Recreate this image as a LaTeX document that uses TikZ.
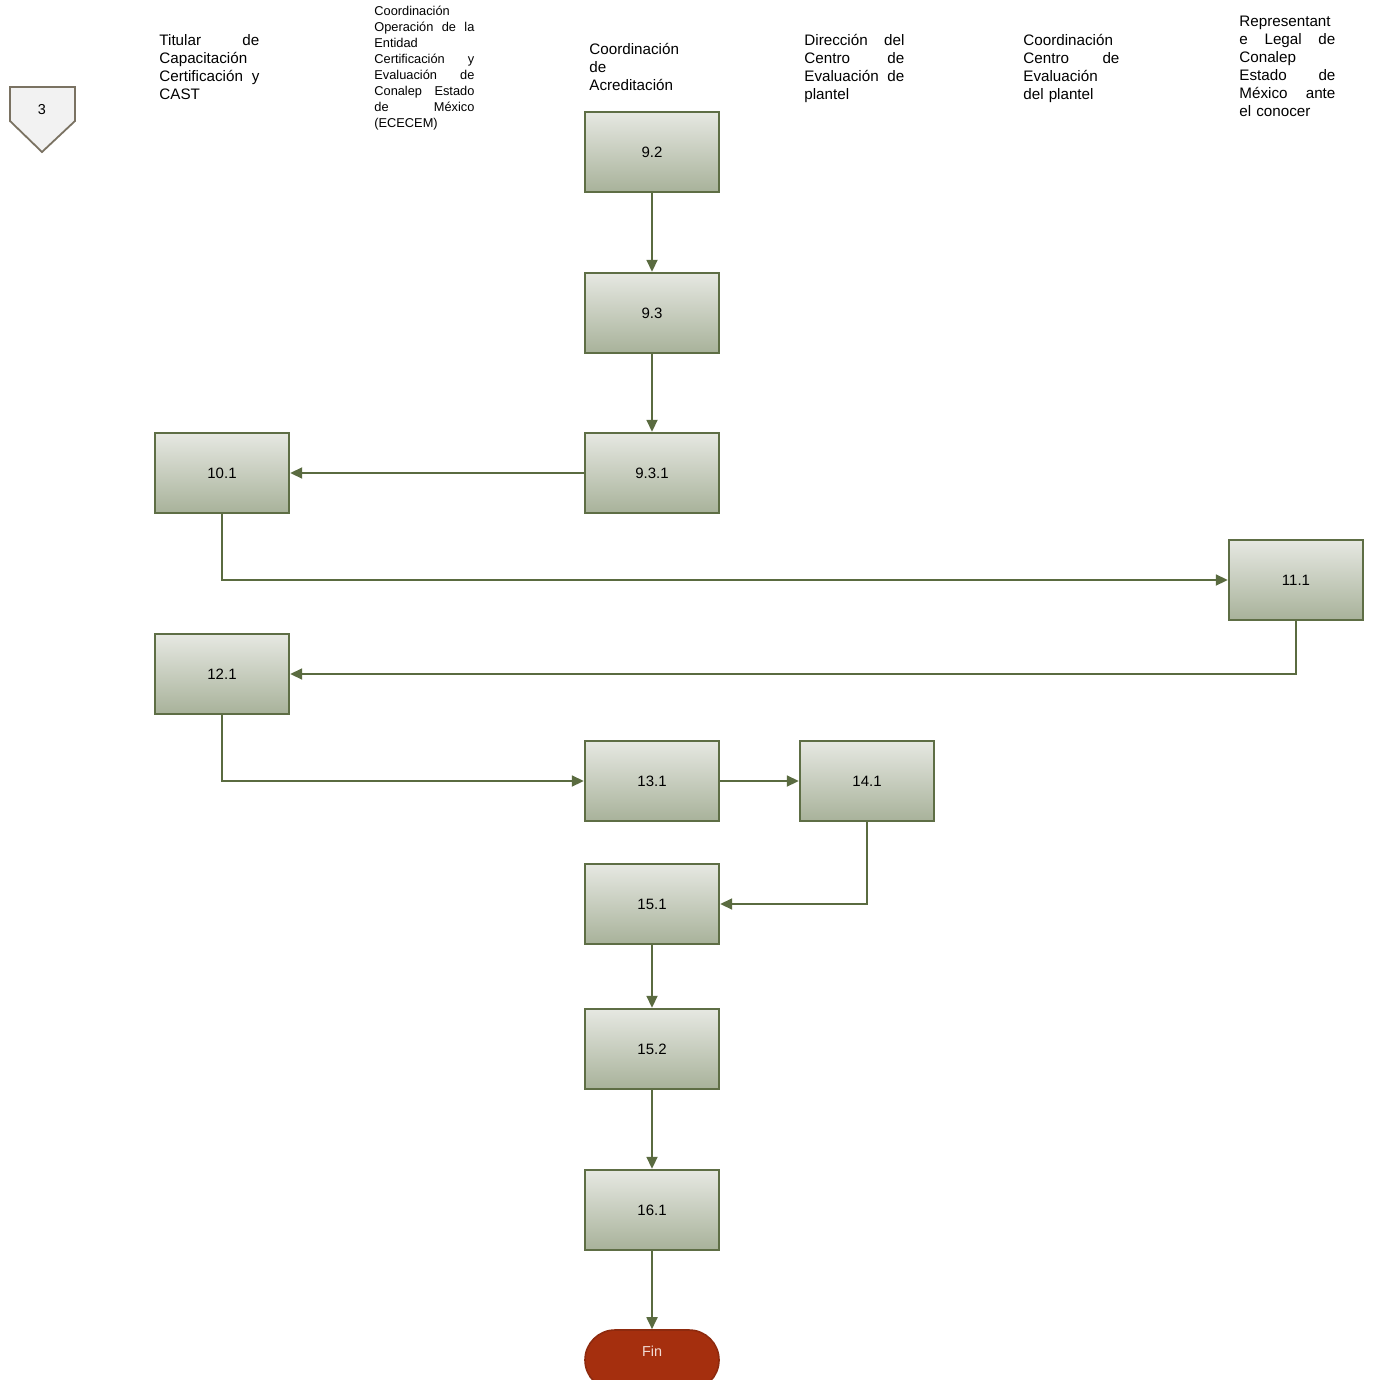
\documentclass[tikz,border=0pt]{standalone}
\usepackage{fontspec}
\setmainfont{Liberation Sans}
\usetikzlibrary{arrows.meta,shapes.geometric,shapes.misc}
\definecolor{boxline}{HTML}{5E6E45}
\definecolor{boxtop}{HTML}{E6E8E2}
\definecolor{boxbot}{HTML}{A8B29A}
\definecolor{arr}{HTML}{5A6B40}
\definecolor{finfill}{HTML}{A52F0E}
\definecolor{finline}{HTML}{8E2A0E}
\definecolor{fintext}{HTML}{F2DCD4}
\definecolor{connline}{HTML}{7A7262}
\definecolor{connfill}{HTML}{F2F2F2}
\tikzset{
  stepbox/.style={draw=boxline, line width=1.2pt, top color=boxtop, bottom color=boxbot,
    minimum width=67pt, minimum height=40pt, inner sep=0pt, font=\fontsize{7.5}{9}\selectfont},
  flow/.style={draw=arr, line width=0.9pt, -{Triangle[length=6pt,width=5.5pt]}},
  hdr/.style={anchor=north west, inner sep=0pt, align=left, font=\fontsize{7.6}{9}\selectfont},
  hdrsmall/.style={anchor=north west, inner sep=0pt, align=left, font=\fontsize{6.4}{8}\selectfont},
  finbox/.style={rounded rectangle, draw=finline, line width=0.8pt, fill=finfill, text=fintext,
    minimum width=67pt, minimum height=30pt, inner sep=0pt, font=\fontsize{7.2}{8}\selectfont},
}
\begin{document}
\begin{tikzpicture}[x=0.5pt,y=-0.5pt]
\useasboundingbox (0,0) rectangle (1372,1380);

% off-page connector
\draw[draw=connline, fill=connfill, line width=0.9pt] (10,87) -- (75,87) -- (75,121) -- (42,152) -- (10,121) -- cycle;
\node[inner sep=0pt, font=\fontsize{7.2}{8}\selectfont] (conn3) at (42,110) {3};

% headers
\node[hdr, text width=50pt] (h1) at (159,34) {Titular\hfill de\\Capacitación\\Certificación\hfill y\\CAST};
\node[hdrsmall, text width=50pt] (h2) at (374,6) {Coordinación\\Operación\hfill de\hfill la\\Entidad\\Certificación\hfill y\\Evaluación\hfill de\\Conalep\hfill Estado\\de\hfill México\\(ECECEM)};
\node[hdr, text width=50pt] (h3) at (589,43) {Coordinación\\de\\Acreditación};
\node[hdr, text width=50pt] (h4) at (804,34) {Dirección\hfill del\\Centro\hfill de\\Evaluación\hfill de\\plantel};
\node[hdr, text width=48pt] (h5) at (1023,34) {Coordinación\\Centro\hfill de\\Evaluación\\del plantel};
\node[hdr, text width=48pt] (h6) at (1239,16) {Representant\\e\hfill Legal\hfill de\\Conalep\\Estado\hfill de\\México\hfill ante\\el conocer};

% steps
\node[stepbox] (n92)  at (652,152)  {9.2};
\node[stepbox] (n93)  at (652,313)  {9.3};
\node[stepbox] (n931) at (652,473)  {9.3.1};
\node[stepbox] (n101) at (222,473)  {10.1};
\node[stepbox] (n111) at (1296,580) {11.1};
\node[stepbox] (n121) at (222,674)  {12.1};
\node[stepbox] (n131) at (652,781)  {13.1};
\node[stepbox] (n141) at (867,781)  {14.1};
\node[stepbox] (n151) at (652,904)  {15.1};
\node[stepbox] (n152) at (652,1049) {15.2};
\node[stepbox] (n161) at (652,1210) {16.1};
\node[finbox]  (fin)  at (652,1360) {\raisebox{9pt}{Fin}};

% connectors
\draw[flow] (n92) -- (n93);
\draw[flow] (n93) -- (n931);
\draw[flow] (n931) -- (n101);
\draw[flow] (n101.south) |- (n111.west);
\draw[flow] (n111.south) |- (n121.east);
\draw[flow] (n121.south) |- (n131.west);
\draw[flow] (n131) -- (n141);
\draw[flow] (n141.south) |- (n151.east);
\draw[flow] (n151) -- (n152);
\draw[flow] (n152) -- (n161);
\draw[flow] (n161) -- (fin);
\end{tikzpicture}
\end{document}
